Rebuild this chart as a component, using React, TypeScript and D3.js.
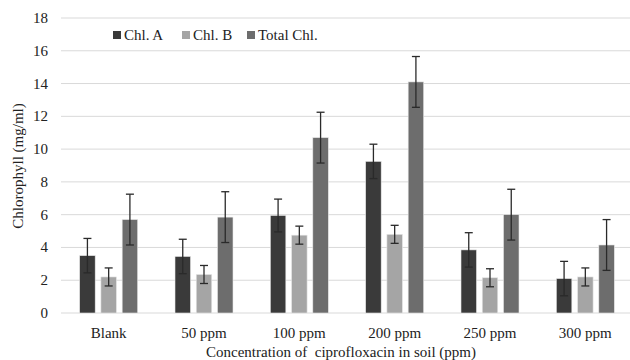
import React, { useEffect, useRef } from "react";
import * as d3 from "d3";

const categories = ["Blank", "50 ppm", "100 ppm", "200 ppm", "250 ppm", "300 ppm"];
const seriesNames = ["Chl. A", "Chl. B", "Total Chl."];
const seriesColors = ["#3a3a3a", "#a5a5a5", "#6d6d6d"];
const chlA = [3.5, 3.45, 5.95, 9.25, 3.85, 2.1];
const chlB = [2.2, 2.35, 4.75, 4.8, 2.15, 2.2];
const total = [5.7, 5.85, 10.7, 14.1, 6.0, 4.15];
const chlAErr = [1.05, 1.05, 1.0, 1.05, 1.05, 1.05];
const chlBErr = [0.55, 0.55, 0.55, 0.55, 0.55, 0.55];
const totalErr = [1.55, 1.55, 1.55, 1.55, 1.55, 1.55];
const yTicks = [0, 2, 4, 6, 8, 10, 12, 14, 16, 18];

export default function App() {
  const svgRef = useRef<SVGSVGElement>(null);

  useEffect(() => {
    const w = 630;
    const h = 360;
    const svg = d3.select(svgRef.current).attr("width", w).attr("height", h);
    svg.selectAll("*").remove();
    const font = "Liberation Serif";

    const x = d3.scaleBand().domain(categories).range([61, 633]).padding(0);
    const inner = d3.scaleBand().domain(seriesNames).range([-29, 29]).paddingInner(0.27).paddingOuter(0);
    const y = d3.scaleLinear().domain([0, 18]).range([313, 18]);

    // grid
    svg.append("g")
      .selectAll("line")
      .data(yTicks)
      .join("line")
      .attr("x1", 61)
      .attr("x2", 630)
      .attr("y1", (d) => y(d))
      .attr("y2", (d) => y(d))
      .attr("stroke", "#d9d9d9")
      .attr("stroke-width", 1);

    // y tick labels
    svg.append("g")
      .selectAll("text")
      .data(yTicks)
      .join("text")
      .attr("x", 48)
      .attr("y", (d) => y(d) + 5)
      .attr("text-anchor", "end")
      .attr("font-family", font)
      .attr("font-size", 15)
      .attr("fill", "#222")
      .text((d) => d);

    const values = [chlA, chlB, total];
    const errs = [chlAErr, chlBErr, totalErr];
    const rows = categories.flatMap((c, i) =>
      seriesNames.map((s, k) => ({ c, s, k, v: values[k][i], e: errs[k][i] }))
    );

    const cx = (d: any) => (x(d.c) as number) + x.bandwidth() / 2 + (inner(d.s) as number);

    svg.append("g")
      .selectAll("rect")
      .data(rows)
      .join("rect")
      .attr("x", cx)
      .attr("y", (d) => y(d.v))
      .attr("width", inner.bandwidth())
      .attr("height", (d) => y(0) - y(d.v))
      .attr("fill", (d) => seriesColors[d.k])
      .attr("stroke", "#e6e6e6")
      .attr("stroke-width", 0.6);

    // error bars
    const eb = svg.append("g").attr("stroke", "#2a2a2a").attr("stroke-width", 1.3);
    rows.forEach((d) => {
      const mx = cx(d) + inner.bandwidth() / 2;
      eb.append("line").attr("x1", mx).attr("x2", mx).attr("y1", y(d.v + d.e)).attr("y2", y(d.v - d.e));
      eb.append("line").attr("x1", mx - 4).attr("x2", mx + 4).attr("y1", y(d.v + d.e)).attr("y2", y(d.v + d.e));
      eb.append("line").attr("x1", mx - 4).attr("x2", mx + 4).attr("y1", y(d.v - d.e)).attr("y2", y(d.v - d.e));
    });

    // x labels
    svg.append("g")
      .selectAll("text")
      .data(categories)
      .join("text")
      .attr("x", (d) => (x(d) as number) + x.bandwidth() / 2)
      .attr("y", 338)
      .attr("text-anchor", "middle")
      .attr("font-family", font)
      .attr("font-size", 15)
      .attr("fill", "#222")
      .text((d) => d);

    svg.append("text")
      .attr("x", 341)
      .attr("y", 357)
      .attr("text-anchor", "middle")
      .attr("font-family", font)
      .attr("font-size", 15)
      .style("white-space", "pre")
      .attr("fill", "#222")
      .text("Concentration of  ciprofloxacin in soil (ppm)");

    svg.append("text")
      .attr("transform", "translate(23,166) rotate(-90)")
      .attr("text-anchor", "middle")
      .attr("font-family", font)
      .attr("font-size", 15)
      .attr("fill", "#222")
      .text("Chlorophyll (mg/ml)");

    // legend
    const legendX = [113, 182, 247];
    const lg = svg.append("g");
    seriesNames.forEach((s, k) => {
      lg.append("rect").attr("x", legendX[k]).attr("y", 31).attr("width", 8).attr("height", 8).attr("fill", seriesColors[k]);
      lg.append("text")
        .attr("x", legendX[k] + 11)
        .attr("y", 40)
        .attr("font-family", font)
        .attr("font-size", 15)
        .attr("fill", "#222")
        .text(s);
    });
  }, []);

  return (
    <div>
      <svg ref={svgRef} style={{ position: "absolute", left: 0, top: 0 }}></svg>
    </div>
  );
}
